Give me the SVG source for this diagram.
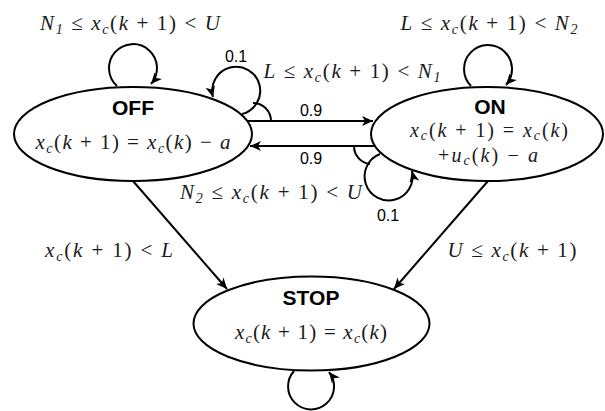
<svg xmlns="http://www.w3.org/2000/svg" width="605" height="411" viewBox="0 0 605 411">
  <style>
    .state { fill: #ffffff; stroke: #000000; stroke-width: 2; }
    .title { font-family: "Liberation Sans", Arial, sans-serif; font-weight: bold; font-size: 21px; fill: #000000; text-anchor: middle; }
    .math { font-family: "Liberation Serif", "Times New Roman", serif; font-size: 21px; fill: #1a1a1a; text-anchor: middle; }
    .math.tight { font-size: 20px; }
    .math .v { font-style: italic; }
    .math .s { font-style: italic; font-size: 14px; }
    .prob { font-family: "Liberation Sans", Arial, sans-serif; font-size: 16px; fill: #000000; text-anchor: middle; }
    .edge { fill: none; stroke: #000000; stroke-width: 2; }
    .arrow { marker-end: url(#head); }
  </style>
  <defs>
    <marker id="head" markerUnits="userSpaceOnUse" markerWidth="12" markerHeight="10" refX="11" refY="5" orient="auto">
      <path d="M0,0 L11,5 L0,10 L3,5 Z" fill="#000000"/>
    </marker>
  </defs>

  <rect width="605" height="411" fill="#ffffff"/>

  <!-- transitions between states -->
  <g id="connectors">
    <!-- OFF self loop (top) -->
    <path class="edge arrow" d="M 117 86 A 24 24 0 1 1 151 84"/>
    <!-- ON self loop (top) -->
    <path class="edge arrow" d="M 471 86 A 24 24 0 1 1 506 85"/>
    <!-- STOP self loop (bottom) -->
    <path class="edge arrow" d="M 294 371 A 23 23 0 1 0 329 372"/>
    <!-- OFF loop with probability 0.1 -->
    <path class="edge arrow" d="M 242 114 A 24 24 0 1 0 213 97"/>
    <path class="edge" d="M 253 103 A 18 18 0 0 1 271 121"/>
    <!-- ON loop with probability 0.1 -->
    <path class="edge arrow" d="M 380 154 A 24 24 0 1 0 412 171"/>
    <path class="edge" d="M 354 146 A 18 18 0 0 0 370 164"/>
    <!-- OFF -> ON and ON -> OFF -->
    <path class="edge arrow" d="M 247 121 L 373 121"/>
    <path class="edge arrow" d="M 374 146 L 250 146"/>
    <!-- OFF -> STOP and ON -> STOP -->
    <path class="edge arrow" d="M 133 181 L 227 289"/>
    <path class="edge arrow" d="M 488 181 L 394 289"/>

    <g id="edge-labels">
      <text class="math" x="130" y="30" textLength="180"><tspan class="v">N</tspan><tspan class="s" dy="4">1</tspan><tspan dy="-4"> ≤ </tspan><tspan class="v">x</tspan><tspan class="s" dy="4">c</tspan><tspan dy="-4">(</tspan><tspan class="v">k</tspan> + 1) &lt; <tspan class="v">U</tspan></text>
      <text class="math" x="489" y="30" textLength="177"><tspan class="v">L</tspan> ≤ <tspan class="v">x</tspan><tspan class="s" dy="4">c</tspan><tspan dy="-4">(</tspan><tspan class="v">k</tspan> + 1) &lt; <tspan class="v">N</tspan><tspan class="s" dy="4">2</tspan></text>
      <text class="math" x="352" y="78" textLength="177"><tspan class="v">L</tspan> ≤ <tspan class="v">x</tspan><tspan class="s" dy="4">c</tspan><tspan dy="-4">(</tspan><tspan class="v">k</tspan> + 1) &lt; <tspan class="v">N</tspan><tspan class="s" dy="4">1</tspan></text>
      <text class="math" x="271" y="199" textLength="182"><tspan class="v">N</tspan><tspan class="s" dy="4">2</tspan><tspan dy="-4"> ≤ </tspan><tspan class="v">x</tspan><tspan class="s" dy="4">c</tspan><tspan dy="-4">(</tspan><tspan class="v">k</tspan> + 1) &lt; <tspan class="v">U</tspan></text>
      <text class="math" x="109" y="257" textLength="128"><tspan class="v">x</tspan><tspan class="s" dy="4">c</tspan><tspan dy="-4">(</tspan><tspan class="v">k</tspan> + 1) &lt; <tspan class="v">L</tspan></text>
      <text class="math" x="512" y="257" textLength="129"><tspan class="v">U</tspan> ≤ <tspan class="v">x</tspan><tspan class="s" dy="4">c</tspan><tspan dy="-4">(</tspan><tspan class="v">k</tspan> + 1)</text>
      <text class="prob" x="236" y="62">0.1</text>
      <text class="prob" x="311" y="116">0.9</text>
      <text class="prob" x="311" y="164">0.9</text>
      <text class="prob" x="388" y="221">0.1</text>
    </g>
  </g>

  <g id="node-off">
    <ellipse class="state" cx="133" cy="134" rx="119" ry="47"/>
    <text class="title" x="133" y="115">OFF</text>
    <text class="math" x="133" y="149" textLength="195"><tspan class="v">x</tspan><tspan class="s" dy="4">c</tspan><tspan dy="-4">(</tspan><tspan class="v">k</tspan> + 1) = <tspan class="v">x</tspan><tspan class="s" dy="4">c</tspan><tspan dy="-4">(</tspan><tspan class="v">k</tspan>) − <tspan class="v">a</tspan></text>
  </g>

  <g id="node-on">
    <ellipse class="state" cx="487" cy="134" rx="116" ry="47"/>
    <text class="title" x="490" y="114">ON</text>
    <text class="math tight" x="489" y="137" textLength="158"><tspan class="v">x</tspan><tspan class="s" dy="3">c</tspan><tspan dy="-3">(</tspan><tspan class="v">k</tspan> + 1) = <tspan class="v">x</tspan><tspan class="s" dy="3">c</tspan><tspan dy="-3">(</tspan><tspan class="v">k</tspan>)</text>
    <text class="math tight" x="488" y="162" textLength="100">+<tspan class="v">u</tspan><tspan class="s" dy="3">c</tspan><tspan dy="-3">(</tspan><tspan class="v">k</tspan>) − <tspan class="v">a</tspan></text>
  </g>

  <g id="node-stop">
    <ellipse class="state" cx="311.5" cy="323.5" rx="118" ry="47"/>
    <text class="title" x="311" y="305">STOP</text>
    <text class="math" x="311" y="339" textLength="152"><tspan class="v">x</tspan><tspan class="s" dy="4">c</tspan><tspan dy="-4">(</tspan><tspan class="v">k</tspan> + 1) = <tspan class="v">x</tspan><tspan class="s" dy="4">c</tspan><tspan dy="-4">(</tspan><tspan class="v">k</tspan>)</text>
  </g>
</svg>
